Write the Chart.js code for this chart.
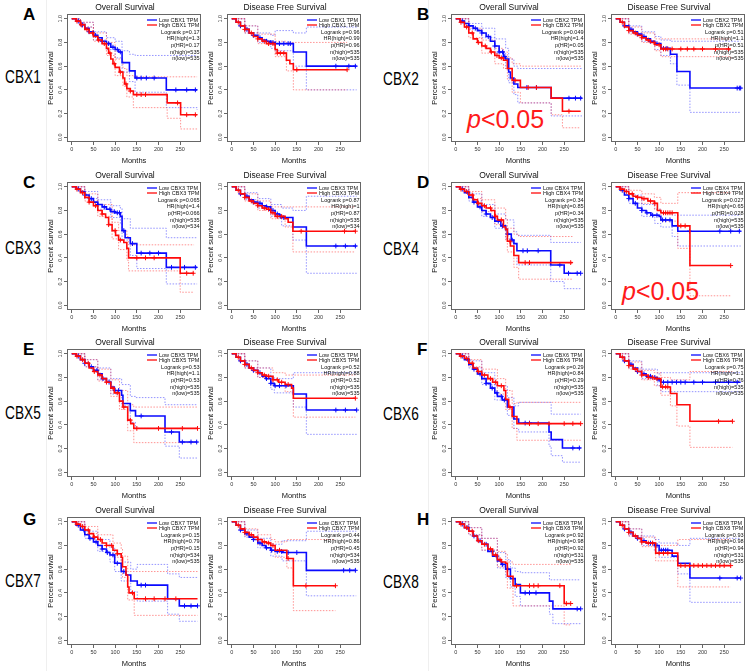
<!DOCTYPE html>
<html>
<head>
<meta charset="utf-8">
<script src="https://cdn.jsdelivr.net/npm/chart.js@4.4.0/dist/chart.umd.min.js"></script>
<style>
body { margin: 0; background: #fff; }
#fig { position: relative; width: 753px; height: 671px; overflow: hidden; font-family: "Liberation Sans", Arial, sans-serif; }
#fig canvas { position: absolute; }
.letter { position: absolute; font-size: 17px; font-weight: bold; line-height: 1; color: #000; }
.gene { position: absolute; font-size: 18px; line-height: 1; color: #000; transform: scaleX(0.76); transform-origin: left top; }
.sig { position: absolute; font-size: 25px; line-height: 1; color: #ff1a1a; }
.sep { position: absolute; top: 0; width: 1px; height: 671px; background: #efefef; }
</style>
</head>
<body>
<div id="fig"></div>
<script>
// tick labels & text
const xTicks = [0, 50, 100, 150, 200, 250];
const yTicks = [0, 0.2, 0.4, 0.6, 0.8, 1.0];
const genes = ['CBX1', 'CBX2', 'CBX3', 'CBX4', 'CBX5', 'CBX6', 'CBX7', 'CBX8'];
const letters = ['A', 'B', 'C', 'D', 'E', 'F', 'G', 'H'];
const titles = ['Overall Survival', 'Disease Free Survival'];

// stats per plot: CBX1 OS, CBX1 DFS, CBX2 OS, ...
const logrankP = ['0.17', '0.96', '0.049', '0.51', '0.065', '0.87', '0.34', '0.027', '0.53', '0.52', '0.29', '0.75', '0.15', '0.44', '0.92', '0.93'];
const hrHigh = ['1.3', '0.99', '1.4', '1.1', '1.4', '1', '0.85', '0.65', '1.1', '0.88', '0.84', '1.1', '0.79', '0.86', '0.98', '0.98'];
const pHR = ['0.17', '0.96', '0.05', '0.51', '0.066', '0.87', '0.34', '0.028', '0.53', '0.52', '0.29', '0.76', '0.15', '0.45', '0.92', '0.94'];
const nHigh = ['535', '535', '535', '535', '535', '535', '535', '535', '535', '535', '535', '535', '534', '534', '531', '531'];
const nLow = ['535', '535', '535', '535', '534', '534', '535', '535', '535', '535', '535', '535', '535', '535', '535', '535'];

// curves: [month, survival]; CI: [month, lower, upper]; censored months
// CBX1
const cbx1OsLow = [[0,1],[10,0.98],[20,0.95],[30,0.92],[40,0.89],[50,0.86],[60,0.84],[70,0.81],[80,0.79],[90,0.76],[100,0.74],[108,0.72],[116,0.63],[133,0.56],[146,0.50],[218,0.40],[289,0.40]];
const cbx1OsHigh = [[0,1],[10,0.98],[20,0.95],[30,0.91],[40,0.88],[50,0.85],[60,0.82],[70,0.79],[80,0.75],[85,0.71],[90,0.66],[95,0.62],[100,0.59],[110,0.55],[118,0.50],[122,0.45],[127,0.41],[135,0.39],[142,0.36],[220,0.29],[251,0.19],[289,0.19]];
const cbx1OsLowCI = [[0,1,1],[20,0.93,0.97],[50,0.82,0.89],[80,0.74,0.84],[100,0.67,0.81],[116,0.55,0.73],[133,0.47,0.70],[146,0.38,0.69],[218,0.25,0.69],[289,0.23,0.69]];
const cbx1OsHighCI = [[0,1,1],[20,0.93,0.97],[50,0.81,0.88],[80,0.69,0.80],[100,0.52,0.66],[118,0.43,0.58],[127,0.34,0.52],[142,0.25,0.51],[220,0.16,0.51],[251,0.07,0.51],[289,0.07,0.51]];
const cbx1OsLowCens = [15,25,40,55,70,85,95,105,112,150,160,172,190,240,265,285];
const cbx1OsHighCens = [12,22,35,48,62,75,88,98,112,125,135,150,160,170,244,265,285];
const cbx1DfsLow = [[0,1],[10,0.97],[20,0.94],[30,0.91],[40,0.88],[50,0.86],[60,0.84],[70,0.82],[80,0.81],[90,0.80],[100,0.79],[142,0.72],[172,0.60],[288,0.60]];
const cbx1DfsHigh = [[0,1],[10,0.97],[20,0.94],[30,0.91],[40,0.88],[50,0.85],[60,0.83],[70,0.81],[80,0.79],[100,0.74],[105,0.71],[126,0.65],[134,0.62],[142,0.57],[266,0.57]];
const cbx1DfsLowCI = [[0,1,1],[30,0.88,0.94],[60,0.80,0.88],[90,0.75,0.86],[100,0.73,0.90],[142,0.60,0.88],[172,0.40,0.93],[288,0.40,0.93]];
const cbx1DfsHighCI = [[0,1,1],[30,0.88,0.94],[60,0.79,0.87],[100,0.68,0.81],[126,0.56,0.80],[142,0.40,0.80],[266,0.40,0.80]];
const cbx1DfsLowCens = [20,35,50,65,80,90,95,100,110,120,130,135,240,270,285];
const cbx1DfsHighCens = [15,30,45,60,75,85,95,105,112,120,150,266];
// CBX2
const cbx2OsLow = [[0,1],[10,0.98],[20,0.96],[30,0.94],[40,0.92],[50,0.90],[60,0.88],[70,0.85],[80,0.81],[90,0.77],[100,0.72],[110,0.68],[115,0.66],[122,0.55],[126,0.50],[134,0.45],[143,0.42],[220,0.33],[291,0.33]];
const cbx2OsHigh = [[0,1],[10,0.97],[20,0.93],[30,0.88],[40,0.83],[50,0.80],[60,0.77],[70,0.75],[80,0.72],[90,0.69],[100,0.67],[110,0.65],[119,0.58],[130,0.48],[149,0.42],[220,0.33],[246,0.22],[288,0.22]];
const cbx2OsLowCI = [[0,1,1],[30,0.91,0.96],[60,0.84,0.92],[90,0.71,0.83],[115,0.58,0.75],[122,0.46,0.66],[134,0.36,0.60],[143,0.29,0.58],[220,0.18,0.58],[291,0.18,0.58]];
const cbx2OsHighCI = [[0,1,1],[30,0.84,0.92],[60,0.71,0.82],[90,0.62,0.75],[110,0.58,0.72],[119,0.49,0.67],[130,0.38,0.62],[149,0.29,0.60],[220,0.19,0.60],[246,0.08,0.60],[288,0.08,0.60]];
const cbx2OsLowCens = [15,30,45,60,75,90,100,108,113,164,186,261,276,288];
const cbx2OsHighCens = [12,25,38,52,68,82,95,105,137,167,186,261];
const cbx2DfsLow = [[0,1],[10,0.97],[20,0.94],[30,0.91],[40,0.89],[50,0.87],[60,0.85],[70,0.83],[80,0.81],[90,0.79],[104,0.75],[126,0.70],[141,0.555],[171,0.415],[288,0.415]];
const cbx2DfsHigh = [[0,1],[10,0.97],[20,0.93],[30,0.90],[40,0.88],[50,0.86],[60,0.84],[70,0.82],[80,0.80],[90,0.78],[104,0.745],[265,0.745]];
const cbx2DfsLowCI = [[0,1,1],[30,0.88,0.94],[60,0.81,0.89],[90,0.74,0.85],[104,0.69,0.82],[126,0.62,0.81],[141,0.44,0.81],[171,0.21,0.81],[288,0.21,0.81]];
const cbx2DfsHighCI = [[0,1,1],[30,0.87,0.93],[60,0.80,0.88],[90,0.73,0.83],[104,0.68,0.83],[265,0.66,0.83]];
const cbx2DfsLowCens = [20,35,50,65,80,95,110,118,280,285,288];
const cbx2DfsHighCens = [15,30,45,60,75,88,100,110,115,120,130,150,165,180,200,230,260];
// CBX3
const cbx3OsLow = [[0,1],[10,0.98],[20,0.96],[30,0.93],[40,0.90],[50,0.87],[60,0.85],[70,0.83],[80,0.81],[90,0.79],[100,0.78],[112,0.75],[116,0.63],[123,0.57],[135,0.52],[150,0.44],[218,0.32],[289,0.32]];
const cbx3OsHigh = [[0,1],[10,0.98],[20,0.95],[30,0.91],[40,0.87],[50,0.84],[60,0.80],[70,0.77],[78,0.74],[85,0.68],[93,0.63],[101,0.59],[108,0.55],[120,0.53],[127,0.48],[131,0.40],[250,0.27],[282,0.27]];
const cbx3OsLowCI = [[0,1,1],[30,0.90,0.96],[60,0.81,0.89],[90,0.74,0.84],[112,0.69,0.82],[116,0.55,0.73],[135,0.42,0.65],[150,0.31,0.65],[218,0.18,0.57],[289,0.18,0.57]];
const cbx3OsHighCI = [[0,1,1],[30,0.88,0.94],[60,0.75,0.85],[93,0.56,0.70],[108,0.47,0.63],[127,0.38,0.58],[131,0.29,0.51],[250,0.11,0.51],[282,0.11,0.51]];
const cbx3OsLowCens = [15,30,45,60,75,88,98,105,110,120,140,160,180,200,230,260,285];
const cbx3OsHighCens = [12,25,40,55,70,85,100,112,150,170,190,265,280];
const cbx3DfsLow = [[0,1],[10,0.97],[20,0.94],[30,0.92],[40,0.89],[50,0.87],[60,0.86],[70,0.84],[80,0.83],[90,0.80],[100,0.77],[110,0.75],[115,0.74],[141,0.66],[172,0.50],[288,0.50]];
const cbx3DfsHigh = [[0,1],[10,0.97],[20,0.94],[30,0.91],[40,0.88],[50,0.86],[60,0.84],[70,0.82],[80,0.81],[90,0.78],[100,0.75],[123,0.73],[130,0.70],[141,0.625],[285,0.625]];
const cbx3DfsLowCI = [[0,1,1],[30,0.89,0.95],[60,0.82,0.90],[90,0.75,0.85],[115,0.67,0.82],[141,0.55,0.80],[172,0.27,0.92],[288,0.27,0.92]];
const cbx3DfsHighCI = [[0,1,1],[30,0.88,0.94],[60,0.80,0.88],[90,0.73,0.83],[123,0.66,0.83],[141,0.45,0.83],[285,0.45,0.83]];
const cbx3DfsLowCens = [20,35,50,65,80,90,95,105,112,120,240,262,285];
const cbx3DfsHighCens = [15,30,45,60,75,85,95,105,115,160,260,285];
// CBX4
const cbx4OsLow = [[0,1],[10,0.98],[20,0.95],[30,0.91],[40,0.87],[50,0.83],[60,0.80],[70,0.77],[80,0.74],[90,0.71],[104,0.67],[115,0.64],[119,0.60],[128,0.55],[134,0.52],[141,0.46],[219,0.34],[250,0.27],[288,0.27]];
const cbx4OsHigh = [[0,1],[10,0.98],[20,0.96],[30,0.93],[40,0.89],[50,0.86],[60,0.84],[70,0.82],[81,0.80],[90,0.75],[96,0.72],[110,0.66],[115,0.64],[119,0.54],[126,0.50],[134,0.42],[145,0.36],[269,0.36]];
const cbx4OsLowCI = [[0,1,1],[30,0.88,0.94],[60,0.75,0.85],[90,0.65,0.77],[115,0.56,0.72],[134,0.42,0.62],[141,0.34,0.59],[219,0.20,0.53],[250,0.14,0.53],[288,0.14,0.53]];
const cbx4OsHighCI = [[0,1,1],[30,0.90,0.96],[60,0.79,0.89],[90,0.68,0.82],[115,0.55,0.73],[119,0.45,0.65],[134,0.32,0.60],[145,0.22,0.58],[269,0.22,0.58]];
const cbx4OsLowCens = [15,28,42,56,70,84,98,108,120,130,155,165,190,240,260,280,288];
const cbx4OsHighCens = [12,25,38,52,66,80,92,105,125,160,170,265];
const cbx4DfsLow = [[0,1],[10,0.97],[20,0.93],[30,0.90],[40,0.86],[50,0.82],[60,0.80],[70,0.78],[81,0.76],[100,0.75],[104,0.72],[130,0.67],[143,0.625],[288,0.625]];
const cbx4DfsHigh = [[0,1],[10,0.98],[20,0.96],[30,0.94],[40,0.92],[50,0.91],[60,0.90],[74,0.88],[89,0.86],[96,0.80],[104,0.78],[143,0.67],[171,0.335],[265,0.335]];
const cbx4DfsLowCI = [[0,1,1],[30,0.86,0.93],[60,0.75,0.85],[90,0.69,0.81],[104,0.66,0.78],[130,0.58,0.76],[143,0.50,0.76],[288,0.50,0.76]];
const cbx4DfsHighCI = [[0,1,1],[30,0.91,0.97],[60,0.86,0.94],[89,0.81,0.91],[104,0.71,0.86],[143,0.48,0.95],[171,0.08,0.95],[265,0.08,0.95]];
const cbx4DfsLowCens = [15,30,45,60,72,85,95,108,115,125,170,240,265,285];
const cbx4DfsHighCens = [12,25,38,50,65,80,90,110,115,120,125,130,150,160,265];
// CBX5
const cbx5OsLow = [[0,1],[10,0.98],[20,0.95],[30,0.92],[40,0.89],[50,0.86],[60,0.83],[70,0.79],[80,0.76],[90,0.72],[98,0.69],[115,0.65],[118,0.58],[135,0.52],[147,0.475],[215,0.34],[248,0.255],[290,0.255]];
const cbx5OsHigh = [[0,1],[10,0.98],[20,0.95],[30,0.92],[40,0.88],[50,0.85],[60,0.82],[70,0.79],[80,0.76],[90,0.71],[98,0.67],[110,0.60],[118,0.55],[129,0.44],[136,0.41],[143,0.37],[290,0.37]];
const cbx5OsLowCI = [[0,1,1],[30,0.89,0.95],[60,0.78,0.88],[90,0.66,0.79],[115,0.56,0.74],[135,0.42,0.64],[147,0.37,0.63],[215,0.22,0.57],[248,0.12,0.57],[290,0.12,0.57]];
const cbx5OsHighCI = [[0,1,1],[30,0.89,0.95],[60,0.77,0.87],[90,0.64,0.78],[110,0.53,0.69],[129,0.35,0.57],[143,0.25,0.55],[290,0.25,0.55]];
const cbx5OsLowCens = [15,30,45,58,72,86,100,108,160,230,255,275,288];
const cbx5OsHighCens = [12,25,38,52,65,80,95,105,120,135,150,200,255,290];
const cbx5DfsLow = [[0,1],[10,0.97],[20,0.94],[30,0.91],[40,0.88],[50,0.86],[60,0.84],[70,0.81],[79,0.79],[90,0.75],[98,0.73],[142,0.66],[172,0.525],[288,0.525]];
const cbx5DfsHigh = [[0,1],[10,0.97],[20,0.94],[30,0.91],[40,0.88],[50,0.86],[60,0.84],[70,0.82],[80,0.81],[95,0.78],[108,0.76],[123,0.74],[138,0.71],[142,0.625],[285,0.625]];
const cbx5DfsLowCI = [[0,1,1],[30,0.88,0.94],[60,0.80,0.88],[90,0.70,0.81],[98,0.67,0.79],[142,0.55,0.84],[172,0.32,0.84],[288,0.32,0.84]];
const cbx5DfsHighCI = [[0,1,1],[30,0.88,0.94],[60,0.80,0.88],[95,0.73,0.84],[123,0.68,0.82],[142,0.465,0.82],[285,0.465,0.82]];
const cbx5DfsLowCens = [20,35,50,65,80,90,100,110,125,240,262,288];
const cbx5DfsHighCens = [15,30,45,60,75,85,95,105,115,130,285];
// CBX6
const cbx6OsLow = [[0,1],[10,0.98],[20,0.95],[30,0.91],[40,0.87],[50,0.83],[60,0.79],[70,0.75],[80,0.71],[90,0.67],[96,0.64],[107,0.61],[119,0.55],[134,0.45],[145,0.415],[215,0.34],[220,0.275],[246,0.205],[288,0.205]];
const cbx6OsHigh = [[0,1],[10,0.98],[20,0.96],[30,0.92],[40,0.88],[50,0.85],[60,0.82],[74,0.79],[85,0.76],[96,0.73],[111,0.69],[115,0.615],[122,0.55],[130,0.47],[141,0.41],[288,0.41]];
const cbx6OsLowCI = [[0,1,1],[30,0.88,0.94],[60,0.74,0.84],[90,0.61,0.73],[119,0.48,0.63],[134,0.37,0.56],[145,0.34,0.59],[215,0.22,0.59],[220,0.14,0.49],[246,0.085,0.49],[288,0.085,0.49]];
const cbx6OsHighCI = [[0,1,1],[30,0.89,0.95],[60,0.78,0.87],[96,0.66,0.79],[115,0.53,0.69],[130,0.37,0.58],[141,0.27,0.59],[288,0.27,0.59]];
const cbx6OsLowCens = [15,28,42,56,70,84,95,105,112,160,170,270,285];
const cbx6OsHighCens = [12,25,38,52,66,80,92,105,125,170,190,215,250,270,288];
const cbx6DfsLow = [[0,1],[10,0.97],[20,0.94],[30,0.91],[40,0.88],[50,0.85],[59,0.83],[70,0.81],[81,0.80],[96,0.78],[104,0.76],[288,0.76]];
const cbx6DfsHigh = [[0,1],[10,0.97],[20,0.94],[30,0.90],[40,0.87],[50,0.85],[60,0.82],[75,0.80],[89,0.79],[104,0.72],[126,0.665],[141,0.57],[171,0.43],[269,0.43]];
const cbx6DfsLowCI = [[0,1,1],[30,0.88,0.94],[60,0.79,0.87],[96,0.73,0.83],[104,0.68,0.84],[288,0.68,0.84]];
const cbx6DfsHighCI = [[0,1,1],[30,0.87,0.93],[60,0.78,0.86],[89,0.73,0.84],[104,0.65,0.80],[126,0.56,0.78],[141,0.39,0.78],[171,0.21,0.85],[269,0.21,0.85]];
const cbx6DfsLowCens = [20,35,50,65,80,90,100,110,120,130,140,150,160,180,200,230,260,280];
const cbx6DfsHighCens = [15,30,45,60,75,85,95,108,115,120,237,269];
// CBX7
const cbx7OsLow = [[0,1],[10,0.97],[20,0.93],[30,0.89],[40,0.86],[50,0.83],[60,0.80],[70,0.77],[80,0.74],[88,0.72],[99,0.65],[114,0.58],[125,0.55],[136,0.50],[151,0.465],[221,0.35],[248,0.29],[290,0.29]];
const cbx7OsHigh = [[0,1],[10,0.98],[20,0.96],[30,0.93],[40,0.90],[50,0.87],[60,0.85],[70,0.82],[80,0.80],[95,0.76],[105,0.73],[114,0.70],[117,0.62],[125,0.55],[129,0.45],[132,0.40],[144,0.35],[290,0.35]];
const cbx7OsLowCI = [[0,1,1],[30,0.86,0.92],[60,0.75,0.85],[88,0.66,0.78],[99,0.58,0.72],[114,0.50,0.66],[136,0.41,0.60],[151,0.33,0.64],[221,0.22,0.56],[248,0.16,0.53],[290,0.16,0.53]];
const cbx7OsHighCI = [[0,1,1],[30,0.90,0.96],[60,0.80,0.89],[95,0.70,0.82],[114,0.63,0.77],[117,0.53,0.71],[129,0.34,0.58],[144,0.21,0.58],[290,0.21,0.58]];
const cbx7OsLowCens = [15,28,42,56,70,82,95,105,120,160,170,260,275,290];
const cbx7OsHighCens = [12,25,38,52,66,80,92,105,140,170,190,215,240];
const cbx7DfsLow = [[0,1],[10,0.97],[20,0.93],[30,0.90],[40,0.87],[50,0.85],[60,0.82],[70,0.80],[78,0.78],[90,0.76],[100,0.75],[116,0.74],[172,0.59],[287,0.59]];
const cbx7DfsHigh = [[0,1],[10,0.97],[20,0.94],[30,0.91],[40,0.89],[50,0.87],[60,0.85],[70,0.83],[80,0.82],[90,0.80],[100,0.76],[127,0.69],[142,0.46],[239,0.46]];
const cbx7DfsLowCI = [[0,1,1],[30,0.87,0.93],[60,0.78,0.86],[90,0.71,0.81],[116,0.67,0.84],[172,0.375,0.92],[287,0.375,0.92]];
const cbx7DfsHighCI = [[0,1,1],[30,0.88,0.94],[60,0.81,0.89],[90,0.75,0.85],[100,0.70,0.83],[127,0.61,0.85],[142,0.25,0.85],[239,0.25,0.85]];
const cbx7DfsLowCens = [20,35,50,65,80,92,105,115,130,150,258,272,285];
const cbx7DfsHighCens = [15,30,45,60,75,85,95,110,130,171,239];
// CBX8
const cbx8OsLow = [[0,1],[10,0.98],[20,0.95],[30,0.92],[40,0.88],[50,0.84],[60,0.81],[74,0.75],[85,0.71],[96,0.67],[105,0.64],[115,0.60],[126,0.52],[137,0.47],[149,0.40],[216,0.33],[224,0.265],[288,0.265]];
const cbx8OsHigh = [[0,1],[10,0.98],[20,0.95],[30,0.92],[40,0.88],[50,0.84],[60,0.81],[74,0.77],[85,0.72],[96,0.68],[105,0.66],[115,0.65],[119,0.54],[132,0.46],[250,0.31],[265,0.31]];
const cbx8OsLowCI = [[0,1,1],[30,0.89,0.95],[60,0.76,0.86],[96,0.61,0.74],[115,0.53,0.68],[126,0.45,0.61],[137,0.37,0.58],[149,0.29,0.57],[216,0.22,0.51],[224,0.14,0.51],[288,0.14,0.51]];
const cbx8OsHighCI = [[0,1,1],[30,0.89,0.95],[60,0.76,0.86],[96,0.62,0.75],[115,0.57,0.73],[119,0.44,0.66],[132,0.29,0.64],[250,0.13,0.64],[265,0.13,0.64]];
const cbx8OsLowCens = [15,28,42,56,70,84,95,108,120,160,170,185,280,288];
const cbx8OsHighCens = [12,25,38,52,66,80,92,102,140,170,180,190,240,255,265];
const cbx8DfsLow = [[0,1],[10,0.97],[20,0.94],[30,0.91],[40,0.88],[50,0.86],[59,0.84],[70,0.82],[89,0.80],[100,0.76],[130,0.71],[143,0.65],[171,0.525],[288,0.525]];
const cbx8DfsHigh = [[0,1],[10,0.97],[20,0.94],[30,0.91],[40,0.88],[50,0.86],[59,0.83],[70,0.82],[92,0.735],[143,0.63],[265,0.63]];
const cbx8DfsLowCI = [[0,1,1],[30,0.88,0.94],[60,0.80,0.88],[89,0.75,0.85],[100,0.70,0.82],[143,0.56,0.80],[171,0.32,0.86],[288,0.32,0.86]];
const cbx8DfsHighCI = [[0,1,1],[30,0.88,0.94],[60,0.79,0.87],[92,0.67,0.80],[143,0.45,0.85],[265,0.45,0.85]];
const cbx8DfsLowCens = [20,35,50,65,80,95,105,110,115,120,240,280,288];
const cbx8DfsHighCens = [15,30,45,60,75,85,100,110,120,150,160,170,180,190,200,210,220,230,240,250,265];

// table built from the arrays above: [low, high, lowCI, highCI, lowCens, highCens]
const plots = [
    [cbx1OsLow, cbx1OsHigh, cbx1OsLowCI, cbx1OsHighCI, cbx1OsLowCens, cbx1OsHighCens],
    [cbx1DfsLow, cbx1DfsHigh, cbx1DfsLowCI, cbx1DfsHighCI, cbx1DfsLowCens, cbx1DfsHighCens],
    [cbx2OsLow, cbx2OsHigh, cbx2OsLowCI, cbx2OsHighCI, cbx2OsLowCens, cbx2OsHighCens],
    [cbx2DfsLow, cbx2DfsHigh, cbx2DfsLowCI, cbx2DfsHighCI, cbx2DfsLowCens, cbx2DfsHighCens],
    [cbx3OsLow, cbx3OsHigh, cbx3OsLowCI, cbx3OsHighCI, cbx3OsLowCens, cbx3OsHighCens],
    [cbx3DfsLow, cbx3DfsHigh, cbx3DfsLowCI, cbx3DfsHighCI, cbx3DfsLowCens, cbx3DfsHighCens],
    [cbx4OsLow, cbx4OsHigh, cbx4OsLowCI, cbx4OsHighCI, cbx4OsLowCens, cbx4OsHighCens],
    [cbx4DfsLow, cbx4DfsHigh, cbx4DfsLowCI, cbx4DfsHighCI, cbx4DfsLowCens, cbx4DfsHighCens],
    [cbx5OsLow, cbx5OsHigh, cbx5OsLowCI, cbx5OsHighCI, cbx5OsLowCens, cbx5OsHighCens],
    [cbx5DfsLow, cbx5DfsHigh, cbx5DfsLowCI, cbx5DfsHighCI, cbx5DfsLowCens, cbx5DfsHighCens],
    [cbx6OsLow, cbx6OsHigh, cbx6OsLowCI, cbx6OsHighCI, cbx6OsLowCens, cbx6OsHighCens],
    [cbx6DfsLow, cbx6DfsHigh, cbx6DfsLowCI, cbx6DfsHighCI, cbx6DfsLowCens, cbx6DfsHighCens],
    [cbx7OsLow, cbx7OsHigh, cbx7OsLowCI, cbx7OsHighCI, cbx7OsLowCens, cbx7OsHighCens],
    [cbx7DfsLow, cbx7DfsHigh, cbx7DfsLowCI, cbx7DfsHighCI, cbx7DfsLowCens, cbx7DfsHighCens],
    [cbx8OsLow, cbx8OsHigh, cbx8OsLowCI, cbx8OsHighCI, cbx8OsLowCens, cbx8OsHighCens],
    [cbx8DfsLow, cbx8DfsHigh, cbx8DfsLowCI, cbx8DfsHighCI, cbx8DfsLowCens, cbx8DfsHighCens]
];
const sigPlots = [2, 7]; // panels marked p<0.05

// layout (pixels)
const plotLefts = [67, 227, 451, 611];
const plotTops = [14, 182, 349, 517];
const PLOT_W = 137, PLOT_H = 128, Y_W = 21, X_H = 23, TITLE_H = 15, PAD_R = 2;
const FONT = '"Liberation Sans", Arial, sans-serif';
const BLUE = '#0a0aff', RED = '#ff0a0a';
const BLUE_CI = 'rgba(60,60,255,0.55)', RED_CI = 'rgba(255,60,60,0.55)';

function pts(curve, j) {
    return curve.map(p => ({ x: p[0], y: p[j] }));
}
function survAt(curve, t) {
    let s = curve[0][1];
    for (const p of curve) { if (p[0] <= t) s = p[1]; }
    return s;
}
function censPts(curve, cens) {
    return cens.map(t => ({ x: t, y: survAt(curve, t) }));
}

// box, rotated y labels, legend and stats (like R / GEPIA)
const kmPlugin = {
    id: 'km',
    afterDraw(chart) {
        const { ctx, chartArea: a } = chart;
        const info = chart.options.plugins.km;
        ctx.save();
        ctx.strokeStyle = '#666';
        ctx.lineWidth = 1;
        ctx.strokeRect(Math.round(a.left) + 0.5, Math.round(a.top) + 0.5, Math.round(a.right - a.left) - 1, Math.round(a.bottom - a.top) - 1);

        const yScale = chart.scales.y;
        ctx.fillStyle = '#333';
        ctx.font = '5.5px ' + FONT;
        ctx.textAlign = 'center';
        ctx.textBaseline = 'middle';
        yTicks.forEach(v => {
            ctx.save();
            ctx.translate(a.left - 6.5, yScale.getPixelForValue(v));
            ctx.rotate(-Math.PI / 2);
            ctx.fillText(v.toFixed(1), 0, 0);
            ctx.restore();
        });

        const rows = [6, 11, 18, 24.7, 31.4, 38.1, 44.8];
        const r = a.right;
        ctx.lineWidth = 1.3;
        [[BLUE, 'Low ' + info.gene + ' TPM'], [RED, 'High ' + info.gene + ' TPM']].forEach((it, i) => {
            const y = a.top + rows[i];
            ctx.strokeStyle = it[0];
            ctx.beginPath(); ctx.moveTo(r - 54, y); ctx.lineTo(r - 44, y); ctx.stroke();
            ctx.fillStyle = '#111';
            ctx.textAlign = 'left';
            ctx.fillText(it[1], r - 42, y);
        });
        const k = info.k;
        const stats = ['Logrank p=' + logrankP[k], 'HR(high)=' + hrHigh[k], 'p(HR)=' + pHR[k], 'n(high)=' + nHigh[k], 'n(low)=' + nLow[k]];
        ctx.textAlign = 'right';
        stats.forEach((s, i) => ctx.fillText(s, r - 1.5, a.top + rows[i + 2]));
        ctx.restore();
    }
};

function makePlot(k) {
    const g = Math.floor(k / 2), t = k % 2;
    const col = g % 2, row = Math.floor(g / 2);
    const [low, high, lowCI, highCI, lowCens, highCens] = plots[k];
    const cv = document.createElement('canvas');
    cv.width = Y_W + PLOT_W + PAD_R;
    cv.height = TITLE_H + PLOT_H + X_H;
    cv.style.left = (plotLefts[col * 2 + t] - Y_W) + 'px';
    cv.style.top = (plotTops[row] - TITLE_H) + 'px';
    document.getElementById('fig').appendChild(cv);

    const main = (data, color) => ({ data, borderColor: color, borderWidth: 1.6, stepped: true, pointRadius: 0, fill: false });
    const cens = (data, color) => ({ data, showLine: false, pointStyle: 'cross', pointRadius: 2.4, pointBorderColor: color, pointBorderWidth: 1, borderColor: color });
    const ci = (data, color) => ({ data, borderColor: color, borderWidth: 1, borderDash: [1.5, 1.5], stepped: true, pointRadius: 0, fill: false });

    new Chart(cv, {
        type: 'line',
        data: {
            datasets: [
                cens(censPts(high, highCens), RED),
                main(pts(high, 1), RED),
                cens(censPts(low, lowCens), BLUE),
                main(pts(low, 1), BLUE),
                ci(pts(highCI, 1), RED_CI),
                ci(pts(highCI, 2), RED_CI),
                ci(pts(lowCI, 1), BLUE_CI),
                ci(pts(lowCI, 2), BLUE_CI)
            ]
        },
        options: {
            responsive: false,
            animation: false,
            events: [],
            layout: { padding: { left: 0, right: PAD_R, top: 0, bottom: 0 } },
            plugins: {
                legend: { display: false },
                tooltip: { enabled: false },
                title: { display: true, text: titles[t], color: '#111', font: { family: FONT, size: 8.5, weight: 'normal' }, padding: { top: 4, bottom: 0.8 } },
                km: { gene: genes[g], k }
            },
            scales: {
                x: {
                    type: 'linear', min: -11, max: 298,
                    afterBuildTicks: s => { s.ticks = xTicks.map(v => ({ value: v })); },
                    afterFit: s => { s.height = X_H; },
                    ticks: { color: '#333', font: { family: FONT, size: 5.5 }, padding: 1, maxRotation: 0, autoSkip: false },
                    grid: { drawOnChartArea: false, tickLength: 3, color: '#666' },
                    border: { display: false },
                    title: { display: true, text: 'Months', color: '#111', font: { family: FONT, size: 7.5 }, padding: 0 }
                },
                y: {
                    type: 'linear', min: -0.04, max: 1.04,
                    afterBuildTicks: s => { s.ticks = yTicks.map(v => ({ value: v })); },
                    afterFit: s => { s.width = Y_W; },
                    ticks: { display: false },
                    grid: { drawOnChartArea: false, tickLength: 3, color: '#666' },
                    border: { display: false },
                    title: { display: true, text: 'Percent survival', color: '#111', font: { family: FONT, size: 7.5 }, padding: 0 }
                }
            }
        },
        plugins: [kmPlugin]
    });
}

function addLabels() {
    const fig = document.getElementById('fig');
    [46, 428].forEach(x => {
        const d = document.createElement('div');
        d.className = 'sep';
        d.style.left = x + 'px';
        fig.appendChild(d);
    });
    const letterLefts = [23, 417];
    const letterTops = [6, 174, 341, 511];
    const geneLefts = [5, 383];
    const geneTops = [[68, 70], [239, 240], [404, 405], [572, 573]];
    genes.forEach((name, g) => {
        const col = g % 2, row = Math.floor(g / 2);
        const l = document.createElement('div');
        l.className = 'letter';
        l.textContent = letters[g];
        l.style.left = letterLefts[col] + 'px';
        l.style.top = letterTops[row] + 'px';
        fig.appendChild(l);
        const n = document.createElement('div');
        n.className = 'gene';
        n.textContent = name;
        n.style.left = geneLefts[col] + 'px';
        n.style.top = geneTops[row][col] + 'px';
        fig.appendChild(n);
    });
    const sigPos = [[467, 107], [622, 279]];
    sigPlots.forEach((k, i) => {
        const s = document.createElement('div');
        s.className = 'sig';
        s.innerHTML = '<i>p</i>&lt;0.05';
        s.style.left = sigPos[i][0] + 'px';
        s.style.top = sigPos[i][1] + 'px';
        fig.appendChild(s);
    });
}

addLabels();
plots.forEach((p, k) => makePlot(k));
</script>
</body>
</html>
